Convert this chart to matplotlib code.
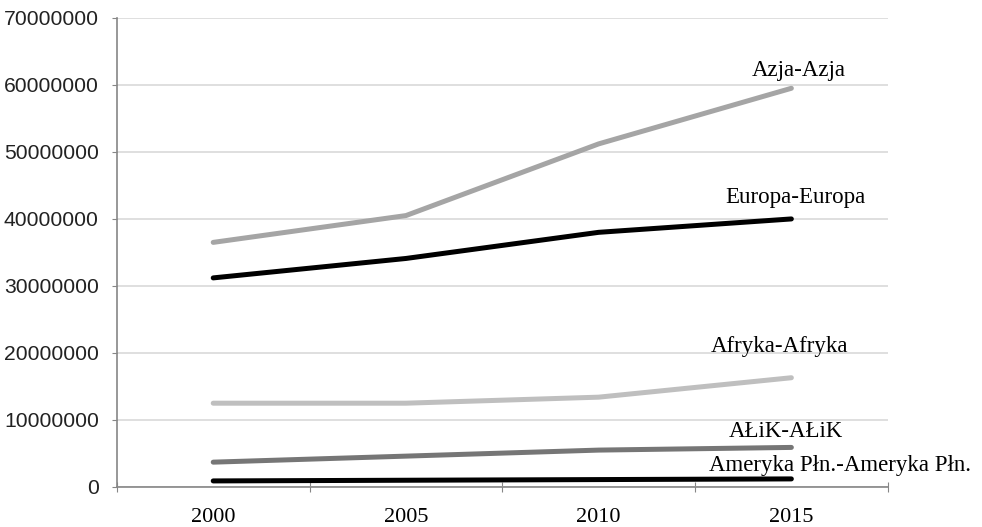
import matplotlib
matplotlib.use("Agg")
import matplotlib.pyplot as plt
import numpy as np

years = ["2000", "2005", "2010", "2015"]

azja = [36500000, 40500000, 51200000, 59500000]
europa = [31200000, 34100000, 38000000, 40000000]
afryka = [12500000, 12500000, 13400000, 16300000]
alik = [3700000, 4600000, 5500000, 5900000]
ameryka = [900000, 1000000, 1100000, 1200000]

series = [
    ("Azja-Azja", azja, "#a5a5a5", (7, 18)),
    ("Europa-Europa", europa, "#000000", (4, 21)),
    ("Afryka-Afryka", afryka, "#bfbfbf", (-12, 31)),
    ("AŁiK-AŁiK", alik, "#767676", (-5, 16)),
    ("Ameryka Płn.-Ameryka Płn.", ameryka, "#000000", (49, 13)),
]

fig = plt.figure(figsize=(9.82, 5.27), dpi=100)
ax = fig.add_axes([0.119, 0.076, 0.785, 0.890])

x = np.arange(len(years))
for name, vals, col, off in series:
    ax.plot(x, vals, color=col, lw=3.6, solid_capstyle="round", zorder=3)
    ax.annotate(name, xy=(x[-1], vals[-1]), xytext=off, textcoords="offset pixels",
                ha="center", va="center", fontsize=16.5, family="Liberation Serif",
                zorder=4)

ax.set_xlim(-0.5, len(years) - 0.5)
ax.set_ylim(0, 70000000)
ax.set_yticks(np.arange(0, 70000001, 10000000))
ax.set_yticklabels([str(v) for v in range(0, 70000001, 10000000)],
                   family="Liberation Sans", fontsize=15.2, color="#222222")

# category axis: ticks between categories, labels at centres
ax.set_xticks(np.arange(-0.5, len(years)), minor=False)
ax.set_xticklabels([])
ax.set_xticks(x, minor=True)
ax.set_xticklabels(years, minor=True, family="Liberation Serif", fontsize=16)
ax.tick_params(axis="x", which="minor", length=0, pad=15)
ax.tick_params(axis="x", which="major", length=7, direction="inout", color="#868686")
ax.tick_params(axis="y", length=3.6, direction="out", color="#868686", pad=9.4)

ax.grid(axis="y", color="#d9d9d9", lw=1.2, zorder=0)
for s in ["top", "right"]:
    ax.spines[s].set_visible(False)
for s in ["left", "bottom"]:
    ax.spines[s].set_color("#868686")
    ax.spines[s].set_linewidth(1.2)

fig.savefig("out.png", dpi=100)
